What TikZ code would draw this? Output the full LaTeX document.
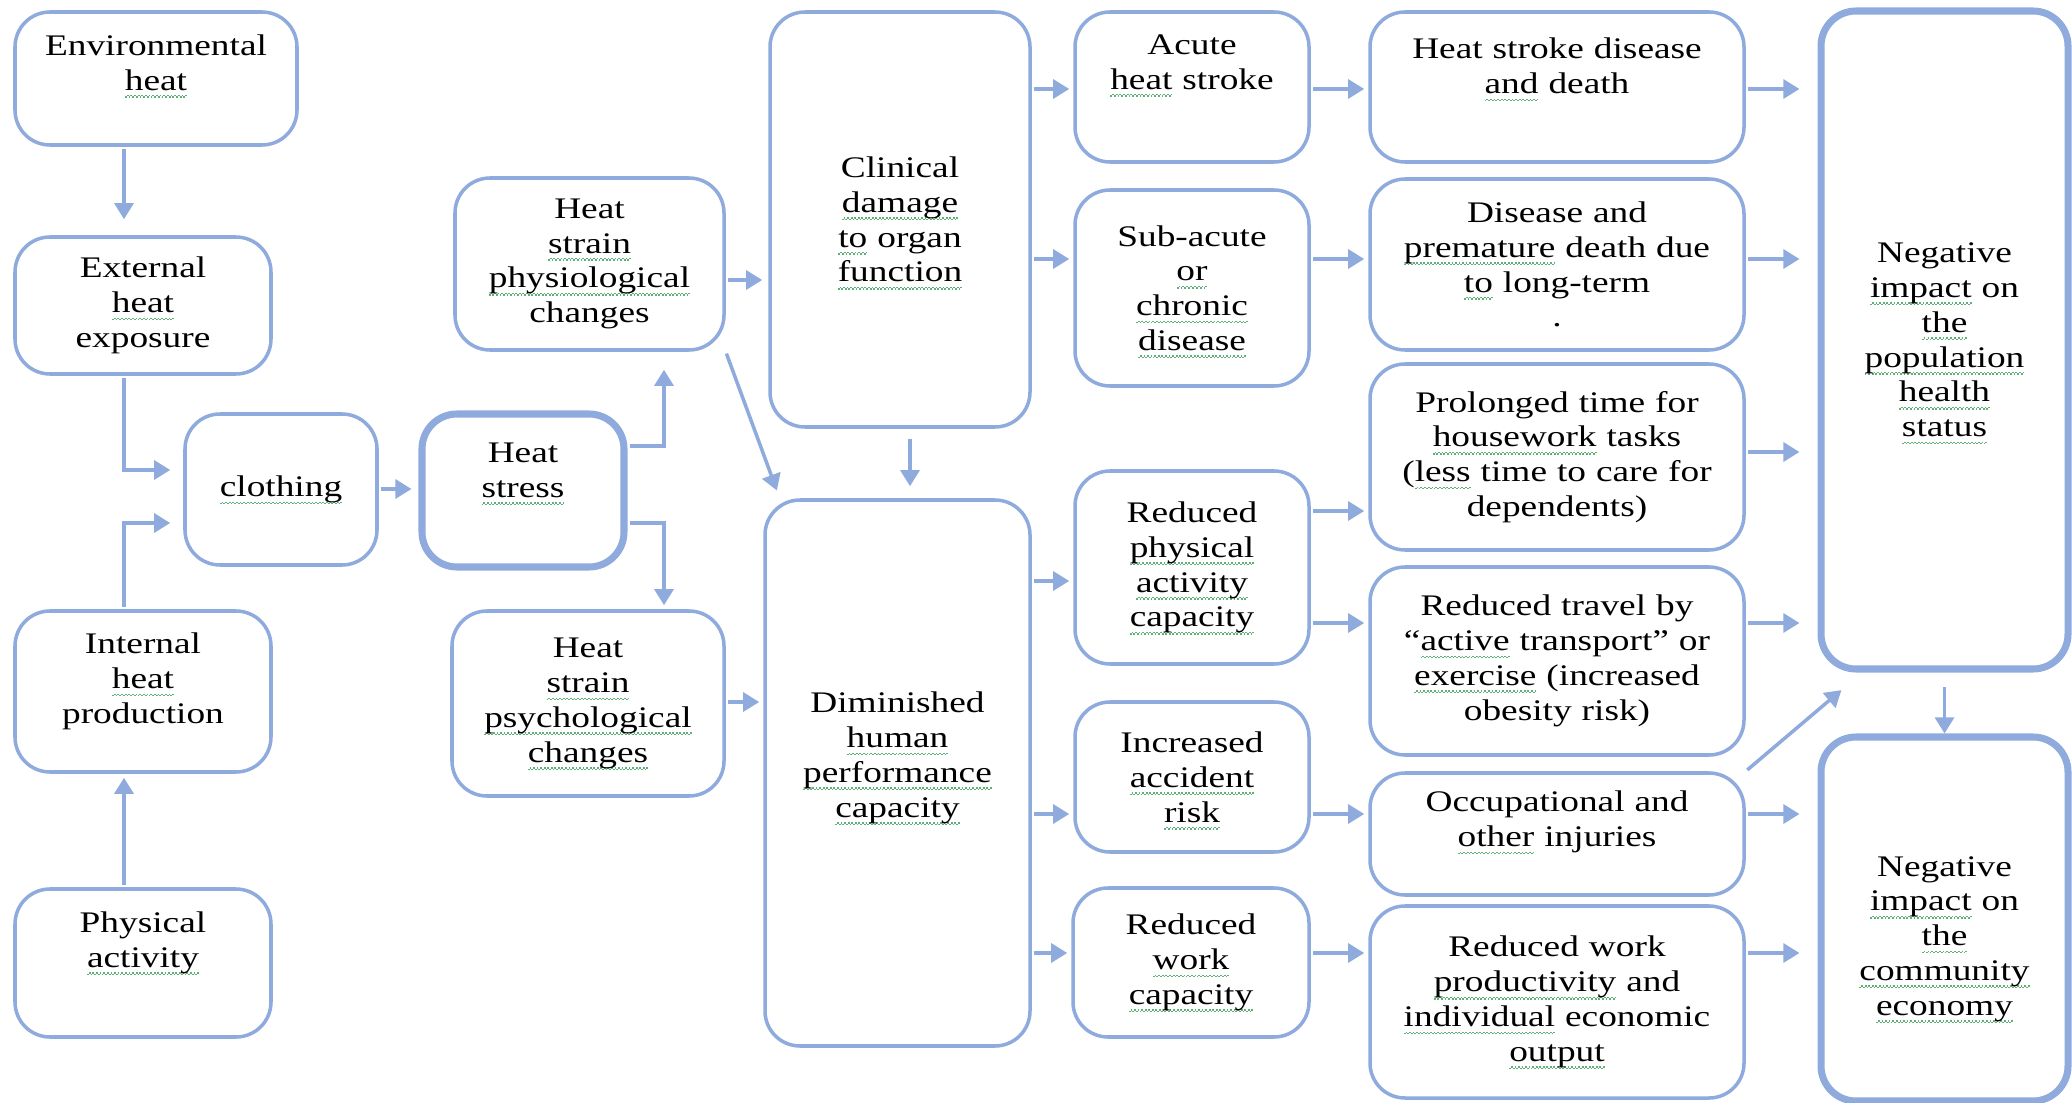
\documentclass[tikz,border=0pt]{standalone}
\usepackage{fontspec}
\setmainfont{Liberation Serif}[FakeStretch=1.25]
\usetikzlibrary{arrows.meta}
\definecolor{boxblue}{RGB}{143,170,220}
\definecolor{squig}{RGB}{95,175,120}
\newsavebox\spellbox
\newcommand\spell[1]{\sbox\spellbox{#1}\leavevmode\smash{\rlap{\lower2.2pt\hbox to\wd\spellbox{\color{squig}\xleaders\hbox{\vrule width0.5pt height0.4pt depth0pt\raise0.4pt\hbox{\vrule width0.5pt height0.4pt depth0pt}}\hfil}}}\usebox\spellbox}

\begin{document}
\begin{tikzpicture}[
    box/.style={draw=boxblue, line width=1pt, rounded corners=0.35cm, align=center,
      inner sep=0pt, font=\fontsize{8.5}{9.9}\selectfont},
    heavy/.style={box, line width=2pt},
    lift/.style={execute at end node={\endgraf\vspace*{#1}}},
    arr/.style={draw=boxblue, line width=1pt, -{Triangle[length=4.6pt,width=5.4pt]},
      shorten <=0.02cm, shorten >=0.04cm}]
  \useasboundingbox (0,0) rectangle (20.72,-11.03);

  % causes
  \node[box, minimum width=2.82cm, minimum height=1.33cm, text width=2.7cm, lift=0.32cm] (EnvHeat) at (1.56,-0.785) {Environmental\\\spell{heat}};
  \node[box, minimum width=2.56cm, minimum height=1.37cm, text width=2.44cm] (ExtHeat) at (1.43,-3.055) {External\\\spell{heat}\\exposure};
  \node[box, minimum width=2.56cm, minimum height=1.61cm, text width=2.44cm, lift=0.2cm] (IntHeat) at (1.43,-6.915) {Internal\\\spell{heat}\\production};
  \node[box, minimum width=2.56cm, minimum height=1.48cm, text width=2.44cm, lift=0.4cm] (PhysAct) at (1.43,-9.63) {Physical\\\spell{activity}};
  \node[box, minimum width=1.92cm, minimum height=1.51cm, text width=1.8cm] (Clothing) at (2.81,-4.895) {\spell{clothing}};
  \node[heavy, minimum width=2.02cm, minimum height=1.53cm, text width=1.9cm, lift=0.4cm] (HeatStress) at (5.23,-4.905) {Heat\\\spell{stress}};

  % strain
  \node[box, minimum width=2.69cm, minimum height=1.72cm, text width=2.57cm] (Physio) at (5.895,-2.64) {Heat\\\spell{strain}\\\spell{physiological}\\changes};
  \node[box, minimum width=2.72cm, minimum height=1.85cm, text width=2.6cm] (Psycho) at (5.88,-7.035) {Heat\\\spell{strain}\\\spell{psychological}\\\spell{changes}};
  \node[box, minimum width=2.6cm, minimum height=4.15cm, text width=2.48cm] (Clinical) at (9.0,-2.195) {Clinical\\\spell{damage}\\\spell{to} organ\\\spell{function}};
  \node[box, minimum width=2.65cm, minimum height=5.46cm, text width=2.53cm, lift=0.3cm] (Diminished) at (8.975,-7.73) {Diminished\\\spell{human}\\\spell{performance}\\\spell{capacity}};

  % direct effects
  \node[box, minimum width=2.34cm, minimum height=1.5cm, text width=2.22cm, lift=0.5cm] (Acute) at (11.92,-0.87) {Acute\\\spell{heat} stroke};
  \node[box, minimum width=2.34cm, minimum height=1.96cm, text width=2.22cm] (SubAcute) at (11.92,-2.88) {Sub-acute\\\spell{or}\\\spell{chronic}\\\spell{disease}};
  \node[box, minimum width=2.34cm, minimum height=1.93cm, text width=2.22cm] (RedPhys) at (11.92,-5.675) {Reduced\\\spell{physical}\\\spell{activity}\\\spell{capacity}};
  \node[box, minimum width=2.34cm, minimum height=1.5cm, text width=2.22cm] (AccRisk) at (11.92,-7.77) {Increased\\\spell{accident}\\\spell{risk}};
  \node[box, minimum width=2.36cm, minimum height=1.49cm, text width=2.24cm] (RedWork) at (11.91,-9.625) {Reduced\\\spell{work}\\\spell{capacity}};

  % outcomes
  \node[box, minimum width=3.74cm, minimum height=1.5cm, text width=3.62cm, lift=0.42cm] (HSDeath) at (15.57,-0.87) {Heat stroke disease\\\spell{and} death};
  \node[box, minimum width=3.74cm, minimum height=1.71cm, text width=3.62cm] (Premature) at (15.57,-2.645) {Disease and\\\spell{premature} death due\\\spell{to} long-term\\.};
  \node[box, minimum width=3.74cm, minimum height=1.86cm, text width=3.62cm] (Prolonged) at (15.57,-4.57) {Prolonged time for\\\spell{housework} tasks\\(\spell{less} time to care for\\dependents)};
  \node[box, minimum width=3.74cm, minimum height=1.88cm, text width=3.62cm] (Travel) at (15.57,-6.61) {Reduced travel by\\``\spell{active} transport'' or\\\spell{exercise} (increased\\obesity risk)};
  \node[box, minimum width=3.74cm, minimum height=1.22cm, text width=3.62cm, lift=0.24cm] (Occup) at (15.57,-8.34) {Occupational and\\\spell{other} injuries};
  \node[box, minimum width=3.74cm, minimum height=1.92cm, text width=3.62cm] (Productivity) at (15.57,-10.02) {Reduced work\\\spell{productivity} and\\\spell{individual} economic\\\spell{output}};

  % impacts
  \node[heavy, minimum width=2.47cm, minimum height=6.58cm, text width=2.35cm] (NegHealth) at (19.445,-3.40) {Negative\\\spell{impact} on\\\spell{the}\\\spell{population}\\\spell{health}\\\spell{status}};
  \node[heavy, minimum width=2.47cm, minimum height=3.64cm, text width=2.35cm, lift=-0.4cm] (NegEcon) at (19.445,-9.19) {Negative\\\spell{impact} on\\\spell{the}\\\spell{community}\\\spell{economy}};

  \coordinate (colA) at (1.24,0);
  \coordinate (colB) at (6.64,0);
  \coordinate (colC) at (9.10,0);

  % left side
  \draw (colA |- EnvHeat.south) edge[arr, shorten >=0.16cm] (colA |- ExtHeat.north);
  \draw[arr, shorten >=0.13cm] (colA |- ExtHeat.south) |- (Clothing.west |- 0,-4.70);
  \draw[arr, shorten >=0.13cm] (colA |- IntHeat.north) |- (Clothing.west |- 0,-5.23);
  \draw (colA |- PhysAct.north) edge[arr] (colA |- IntHeat.south);
  \draw (Clothing.east |- 0,-4.89) edge[arr, shorten >=0.07cm] (HeatStress.west |- 0,-4.89);
  \draw[arr, shorten >=0.18cm] (HeatStress.east |- 0,-4.46) -| (colB |- Physio.south);
  \draw[arr] (HeatStress.east |- 0,-5.23) -| (colB |- Psycho.north);

  \draw (Physio.east |- 0,-2.80) edge[arr, shorten >=0.06cm] (Clinical.west |- 0,-2.80);
  \draw (Physio.south east) edge[arr] ([xshift=0.15cm,yshift=0.04cm]Diminished.north west);
  \draw (Psycho.east |- 0,-7.02) edge[arr] (Diminished.west |- 0,-7.02);
  \draw (colC |- Clinical.south) edge[arr, shorten <=0.1cm, shorten >=0.12cm] (colC |- Diminished.north);

  % middle
  \draw (Clinical.east |- 0,-0.89) edge[arr] (Acute.west |- 0,-0.89);
  \draw (Clinical.east |- 0,-2.59) edge[arr] (SubAcute.west |- 0,-2.59);
  \draw (Diminished.east |- 0,-5.81) edge[arr] (RedPhys.west |- 0,-5.81);
  \draw (Diminished.east |- 0,-8.14) edge[arr] (AccRisk.west |- 0,-8.14);
  \draw (Diminished.east |- 0,-9.53) edge[arr] (RedWork.west |- 0,-9.53);

  \draw (Acute.east |- 0,-0.89) edge[arr] (HSDeath.west |- 0,-0.89);
  \draw (SubAcute.east |- 0,-2.59) edge[arr] (Premature.west |- 0,-2.59);
  \draw (RedPhys.east |- 0,-5.11) edge[arr] (Prolonged.west |- 0,-5.11);
  \draw (RedPhys.east |- 0,-6.23) edge[arr] (Travel.west |- 0,-6.23);
  \draw (AccRisk.east |- 0,-8.14) edge[arr] (Occup.west |- 0,-8.14);
  \draw (RedWork.east |- 0,-9.53) edge[arr] (Productivity.west |- 0,-9.53);

  % right side
  \draw (HSDeath.east |- 0,-0.89) edge[arr, shorten >=0.18cm] (NegHealth.west |- 0,-0.89);
  \draw (Premature.east |- 0,-2.59) edge[arr, shorten >=0.18cm] (NegHealth.west |- 0,-2.59);
  \draw (Prolonged.east |- 0,-4.52) edge[arr, shorten >=0.18cm] (NegHealth.west |- 0,-4.52);
  \draw (Travel.east |- 0,-6.23) edge[arr, shorten >=0.18cm] (NegHealth.west |- 0,-6.23);
  \draw (Occup.east |- 0,-8.14) edge[arr, shorten >=0.18cm] (NegEcon.west |- 0,-8.14);
  \draw (Productivity.east |- 0,-9.53) edge[arr, shorten >=0.18cm] (NegEcon.west |- 0,-9.53);
  \draw (Occup.north east) edge[arr] ([xshift=0.27cm,yshift=-0.15cm]NegHealth.south west);
  \draw (NegHealth.south) edge[arr, shorten <=0.14cm, shorten >=0pt] (NegEcon.north);
\end{tikzpicture}
\end{document}
